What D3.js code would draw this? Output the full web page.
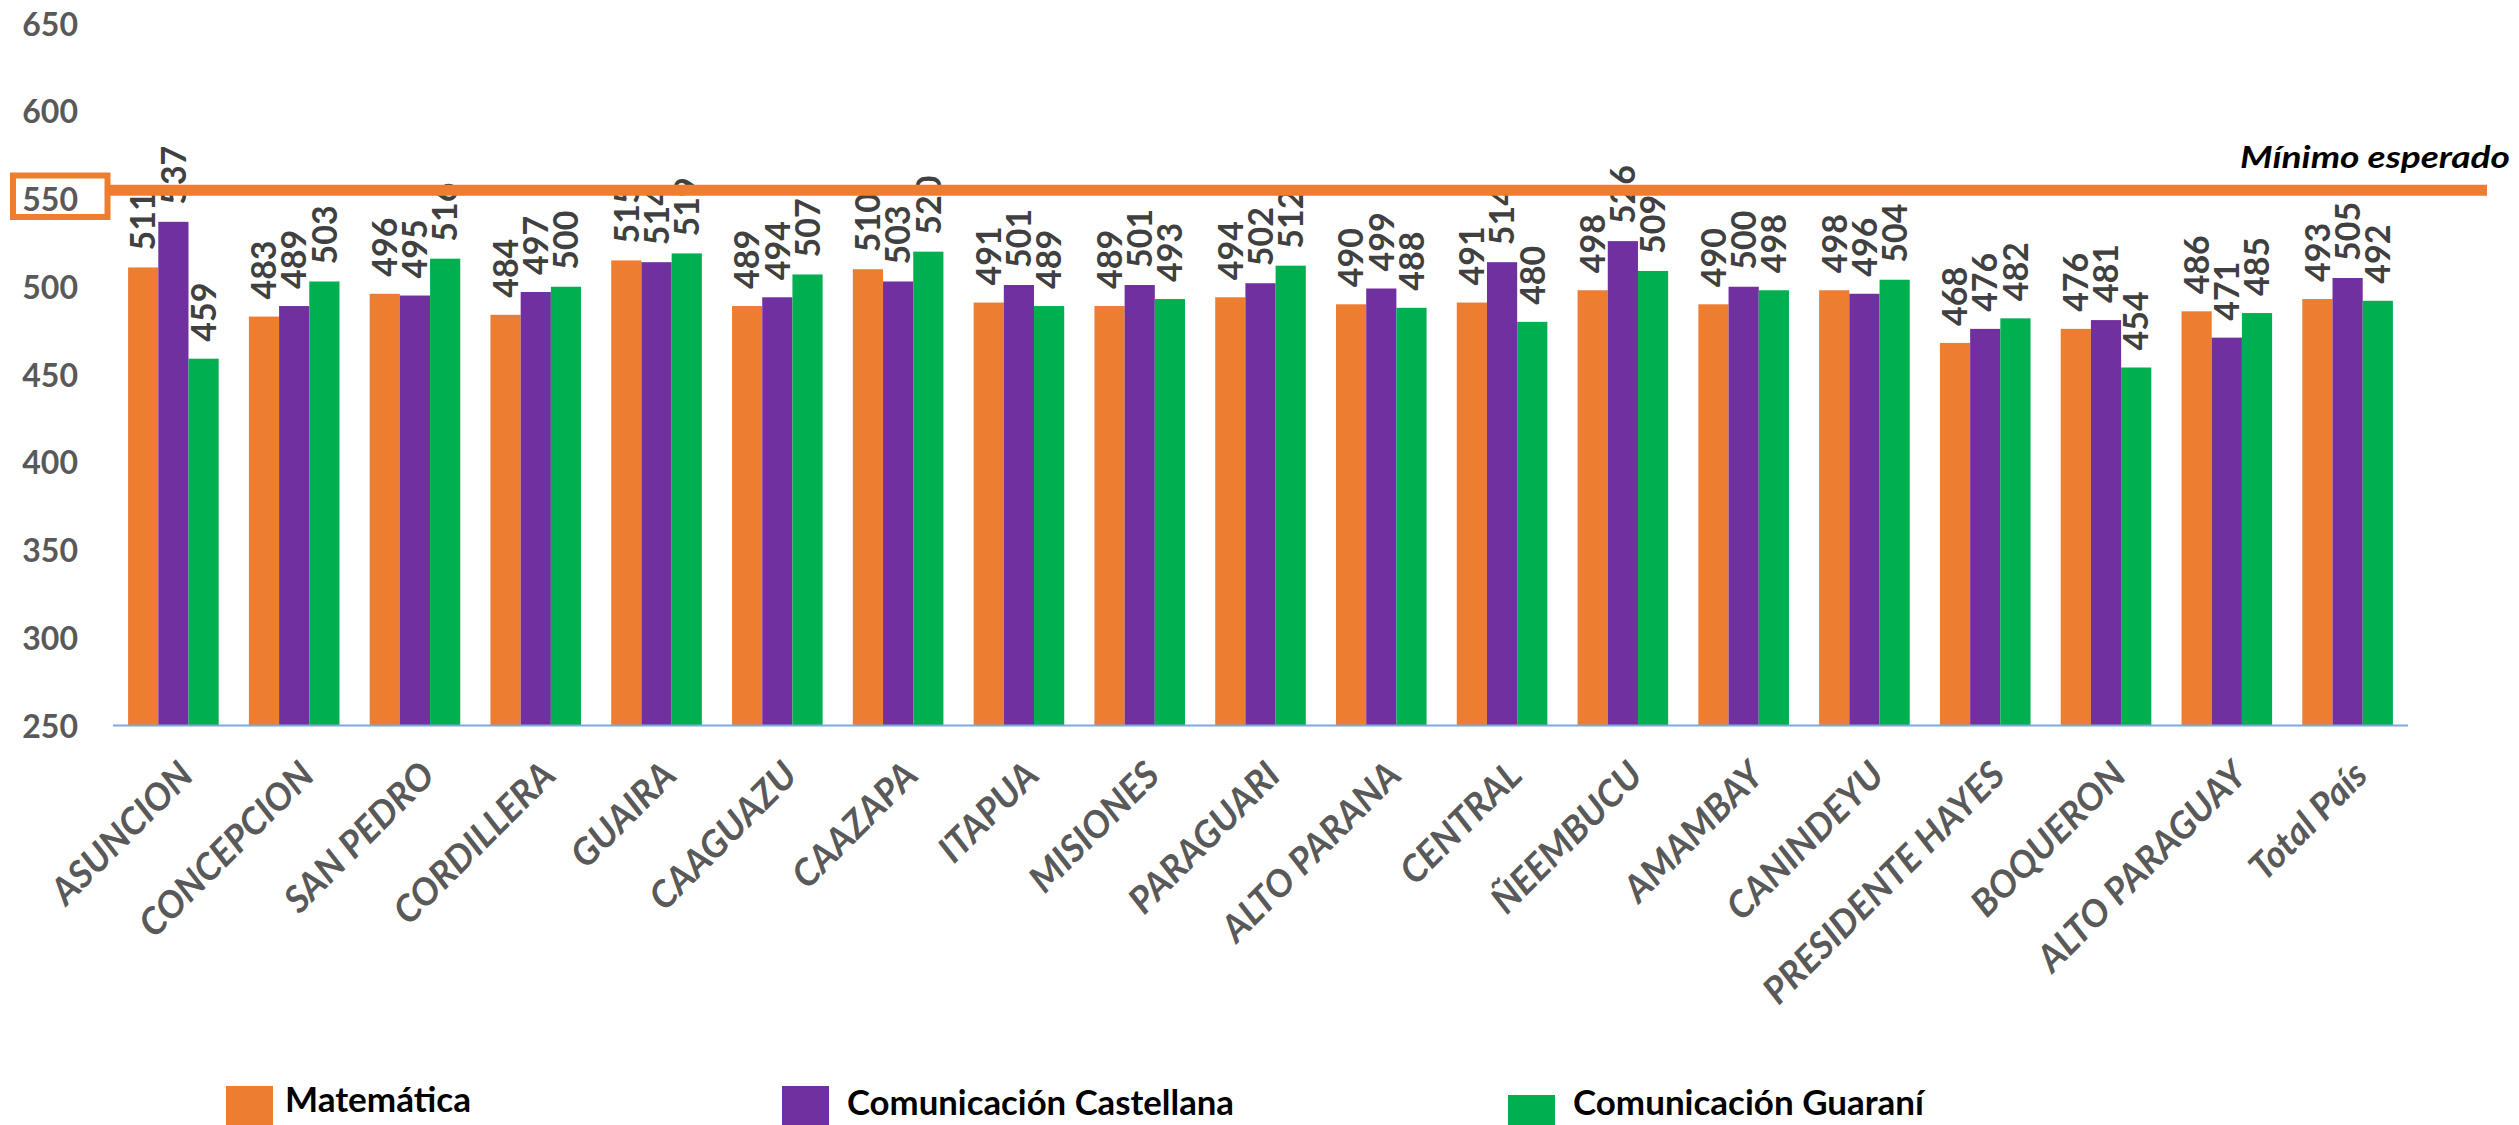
<!DOCTYPE html>
<html>
<head>
<meta charset="utf-8">
<script src="https://cdn.jsdelivr.net/npm/d3@7"></script>
<style>
  html, body { margin: 0; padding: 0; background: #fff; }
  svg { display: block; }
</style>
</head>
<body>
<script>
// ---- data ----
const categories = ["ASUNCION","CONCEPCION","SAN PEDRO","CORDILLERA","GUAIRA","CAAGUAZU","CAAZAPA","ITAPUA","MISIONES","PARAGUARI","ALTO PARANA","CENTRAL","ÑEEMBUCU","AMAMBAY","CANINDEYU","PRESIDENTE HAYES","BOQUERON","ALTO PARAGUAY","Total País"];
const matematica = [511,483,496,484,515,489,510,491,489,494,490,491,498,490,498,468,476,486,493];
const castellana = [537,489,495,497,514,494,503,501,501,502,499,514,526,500,496,476,481,471,505];
const guarani    = [459,503,516,500,519,507,520,489,493,512,488,480,509,498,504,482,454,485,492];
const seriesNames = ["Matemática","Comunicación Castellana","Comunicación Guaraní"];
const seriesColors = ["#ED7D31","#7030A0","#00B050"];
const yTicks = [250,300,350,400,450,500,550,600,650];
const minimoEsperado = 555;
const minimoLabel = "Mínimo esperado";
const highlightedTick = 550;

const W = 2519, H = 1125;
const FONT = "Lato, 'Open Sans', sans-serif";

const svg = d3.select("body").append("svg").attr("width", W).attr("height", H);

const x = d3.scaleBand().domain(categories).range([113, 2408]).paddingInner(0.25).paddingOuter(0.125);
const xs = d3.scaleBand().domain(seriesNames).range([0, x.bandwidth()]);
const y = d3.scaleLinear().domain([250, 650]).range([725.5, 23.5]);

const seriesData = [matematica, castellana, guarani];
const flat = [];
categories.forEach((c, i) => {
  seriesNames.forEach((s, j) => flat.push({cat: c, series: s, idx: j, value: seriesData[j][i]}));
});

// bars
svg.append("g").selectAll("rect").data(flat).join("rect")
  .attr("x", d => x(d.cat) + xs(d.series))
  .attr("y", d => y(d.value))
  .attr("width", xs.bandwidth())
  .attr("height", d => y(250) - y(d.value))
  .attr("fill", d => seriesColors[d.idx]);

// baseline
svg.append("line")
  .attr("x1", x.range()[0]).attr("x2", x.range()[1])
  .attr("y1", y(250)).attr("y2", y(250))
  .attr("stroke", "#7FA7D9").attr("stroke-width", 2);

// y axis labels
const yAxis = svg.append("g").attr("transform", "translate(78,0)")
  .call(d3.axisLeft(y).tickValues(yTicks).tickSize(0).tickPadding(0).tickFormat(d3.format("d")));
yAxis.select(".domain").remove();
yAxis.selectAll("text")
  .attr("font-family", FONT).attr("font-size", 32).attr("font-weight", 700)
  .attr("fill", "#595959").attr("dy", "0.36em").attr("text-anchor", "end");

// x axis labels
const xAxis = svg.append("g").attr("transform", `translate(0,${y(250)})`)
  .call(d3.axisBottom(x).tickSize(0).tickPadding(0));
xAxis.select(".domain").remove();
xAxis.selectAll("text")
  .attr("font-family", FONT).attr("font-size", 37).attr("font-weight", 700).attr("font-style", "italic")
  .attr("fill", "#595959").attr("text-anchor", "end").attr("dy", 0).attr("y", 0)
  .attr("transform", "translate(22,52) rotate(-45)");

// value labels
svg.append("g").selectAll("text").data(flat).join("text")
  .attr("transform", d => `translate(${x(d.cat) + xs(d.series) + xs.bandwidth() / 2},${y(d.value) - 17}) rotate(-90)`)
  .attr("dy", "0.36em")
  .attr("font-family", FONT).attr("font-size", 34).attr("font-weight", 700)
  .attr("fill", "#404040")
  .text(d => d.value);

// minimum expected line
svg.append("line")
  .attr("x1", 110).attr("x2", 2487)
  .attr("y1", y(minimoEsperado)).attr("y2", y(minimoEsperado))
  .attr("stroke", "#ED7D31").attr("stroke-width", 11);

// box around 550 tick
svg.append("rect")
  .attr("x", 13).attr("y", y(highlightedTick) - 23.5)
  .attr("width", 94.5).attr("height", 41.5)
  .attr("fill", "none").attr("stroke", "#ED7D31").attr("stroke-width", 6);

svg.append("text")
  .attr("x", 2510).attr("y", 168)
  .attr("text-anchor", "end")
  .attr("font-family", FONT).attr("font-size", 31).attr("font-weight", 700).attr("font-style", "italic")
  .attr("fill", "#000")
  .attr("textLength", 270).attr("lengthAdjust", "spacingAndGlyphs")
  .text(minimoLabel);

// legend
const legendItems = [
  {rx: 226, ry: 1086, tx: 285, ty: 1112, tw: 186},
  {rx: 782, ry: 1086, tx: 847, ty: 1115, tw: 387},
  {rx: 1508, ry: 1095, tx: 1573, ty: 1115, tw: 351}
];
const lg = svg.append("g");
legendItems.forEach((it, i) => {
  lg.append("rect").attr("x", it.rx).attr("y", it.ry).attr("width", 47).attr("height", 45)
    .attr("fill", seriesColors[i]);
  lg.append("text").attr("x", it.tx).attr("y", it.ty)
    .attr("font-family", FONT).attr("font-size", 35).attr("font-weight", 700)
    .attr("fill", "#000")
    .attr("textLength", it.tw).attr("lengthAdjust", "spacingAndGlyphs")
    .text(seriesNames[i]);
});
</script>
</body>
</html>
